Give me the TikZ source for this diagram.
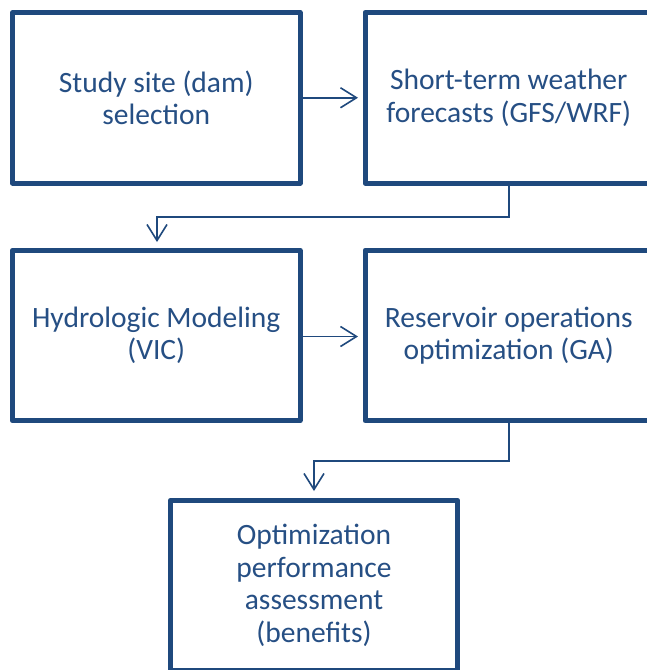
\documentclass[tikz,border=0pt]{standalone}
\usepackage{fontspec}
\setmainfont{Carlito}
\usetikzlibrary{arrows.meta}
\definecolor{navy}{HTML}{1F497D}
\definecolor{txt}{HTML}{264F84}
\tikzset{
  box/.style={draw=navy, line width=5pt, line join=round, minimum width=287.5pt, minimum height=170.5pt,
    align=center, text=txt, font=\fontsize{29.5}{32.5}\selectfont, inner sep=0pt},
  arr/.style={draw=navy, line width=1.6pt, -{Straight Barb[length=16pt,width=20pt,line width=1.6pt]}}
}
\begin{document}
\begin{tikzpicture}[x=1pt,y=-1pt]
\useasboundingbox (0,0) rectangle (647,670);
\clip (0,0) rectangle (647,670);
\fill[white] (0,0) rectangle (647,670);
\node[box] (b1) at (156.25,97.75) {Study site (dam)\\selection};
\node[box] (b2) at (508.75,97.75) {Short-term weather\\forecasts (GFS/WRF)};
\node[box] (b3) at (156.25,335.5) {Hydrologic Modeling\\(VIC)};
\node[box] (b4) at (508.75,335.5) {Reservoir operations\\optimization (GA)};
\node[box] (b5) at (314,585.5) {Optimization\\performance\\assessment\\(benefits)};
\coordinate (t2) at (358,97.75);
\coordinate (t4) at (358,336.5);
\coordinate (t3) at (157,242);
\coordinate (t5) at (314,491);
\draw[arr] (b1.east) -- (t2);
\draw[arr] (b3.east |- t4) -- (t4);
\draw[arr] (b2.south) -- ++(0,31.5) -| (t3);
\draw[arr] (b4.south) -- ++(0,37.5) -| (t5);
\end{tikzpicture}
\end{document}
